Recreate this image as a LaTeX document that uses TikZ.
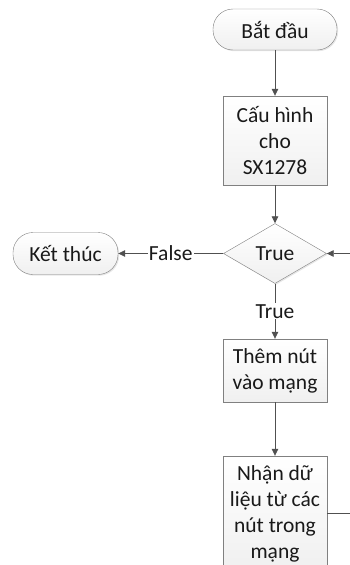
\documentclass[tikz,border=0pt]{standalone}
\usepackage{fontspec}
\setmainfont{Carlito}
\usetikzlibrary{arrows.meta,shapes.geometric,shadows}
\definecolor{linegray}{RGB}{80,80,80}
\definecolor{edgegray}{RGB}{128,128,128}

\begin{document}
\begin{tikzpicture}[x=1pt, y=1pt,
        every node/.style={font=\fontsize{21.5}{26}\selectfont, text=black!90},
        box/.style={draw=edgegray, top color=white, bottom color=black!6, align=center, inner sep=0pt,
            drop shadow={shadow xshift=1.2pt, shadow yshift=-1.2pt, opacity=0.2}},
        term/.style={box, rounded corners=20pt, minimum height=41pt},
        proc/.style={box, minimum width=104pt},
        cond/.style={box, diamond, aspect=1.7, minimum width=103pt, minimum height=60pt},
        flow/.style={draw=linegray, line width=0.8pt, -{Triangle[length=7pt,width=6.5pt]}},
        wire/.style={draw=linegray, line width=0.8pt},
        lbl/.style={fill=white, inner sep=1pt}]
        \useasboundingbox (0,0) rectangle (350,-565);
        \clip (0,0) rectangle (350,-565);

        % Main column
        \node[term, minimum width=124pt] (start) at (275,-29.5) {Bắt đầu};
        \node[proc, minimum height=89pt] (config) at (275,-140.5) {Cấu hình\\cho\\SX1278};
        \node[cond] (check) at (275,-253.5) {True};
        \node[proc, minimum height=63pt] (addnode) at (275,-370.5) {Thêm nút\\vào mạng};
        \node[proc, minimum height=115pt] (recv) at (275,-513.5) {Nhận dữ\\liệu từ các\\nút trong\\mạng};

        % End terminal
        \node[term, minimum width=105pt, minimum height=42pt] (finish) at (65.5,-253.5) {Kết thúc};

        % Loose ends at the right border
        \coordinate (loopin) at (350,-253.5);
        \coordinate (loopout) at (350,-513.5);

        % Connectors
        \draw[flow] (start) -- (config);
        \draw[flow] (config) -- (check);
        \draw[flow] (check) -- node[lbl] {False} (finish);
        \draw[flow] (check) -- node[lbl] {True} (addnode);
        \draw[flow] (addnode) -- (recv);
        \draw[flow] (loopin) -- (check);
        \draw[wire] (recv) -- (loopout);
    \end{tikzpicture}
\end{document}
